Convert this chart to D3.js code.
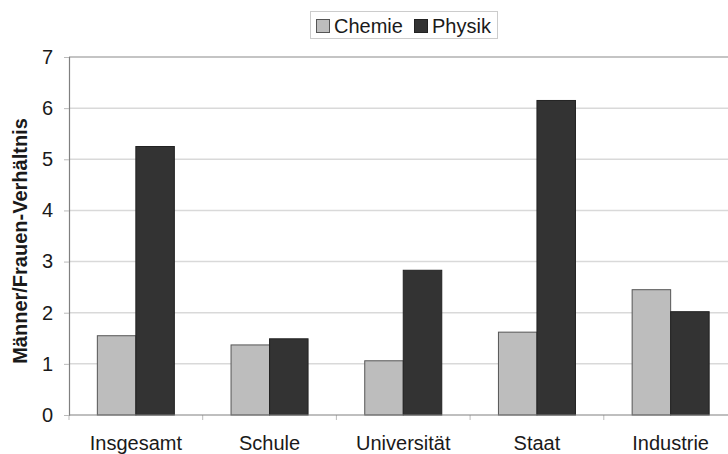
<!DOCTYPE html>
<html><head><meta charset="utf-8">
<script src="https://cdn.jsdelivr.net/npm/d3@7"></script>
<style>body{margin:0;background:#fff}svg{display:block}text{font-family:"Liberation Sans",Arial,sans-serif}</style>
</head><body><svg id="c" width="728" height="454"></svg>
<script>
const categories = ["Insgesamt","Schule","Universität","Staat","Industrie"];
const seriesNames = ["Chemie","Physik"];
const chemie = [1.55, 1.37, 1.06, 1.62, 2.45];
const physik = [5.25, 1.49, 2.83, 6.15, 2.02];
const yTicks = [0,1,2,3,4,5,6,7];
const colors = {Chemie:"#bdbdbd", Physik:"#333333"};
const strokes = {Chemie:"#555555", Physik:"#222222"};

const svg = d3.select("#c");
const L = 69, R = 737.5, T = 57, B = 415;
const x0 = d3.scaleBand().domain(categories).range([L, R]).paddingInner(0).paddingOuter(0);
const x1 = d3.scaleBand().domain(seriesNames).range([0, x0.bandwidth()]).paddingInner(0).paddingOuter(0.736);
const y = d3.scaleLinear().domain([0,7]).range([B, T]);

// gridlines
svg.append("g").selectAll("line").data(yTicks.filter(v=>v>0 && v<7)).join("line")
  .attr("x1", L).attr("x2", R).attr("y1", d=>y(d)).attr("y2", d=>y(d))
  .attr("stroke","#d9d9d9").attr("stroke-width",1.5);

// top border
svg.append("line").attr("x1",L).attr("x2",R).attr("y1",y(7)).attr("y2",y(7)).attr("stroke","#8a8a8a").attr("stroke-width",1.2);

// y axis
const yAxis = d3.axisLeft(y).tickValues(yTicks).tickSize(5).tickPadding(11).tickFormat(d3.format("d"));
const gy = svg.append("g").attr("transform",`translate(${L},0)`).call(yAxis);
gy.select(".domain").attr("stroke","#808080").attr("stroke-width",1.2);
gy.selectAll(".tick line").attr("stroke","#bbbbbb");
gy.selectAll(".tick text").attr("font-size",20).attr("fill","#1a1a1a").attr("font-family","Liberation Sans, Arial, sans-serif");

// bars
const data = categories.map((c,i)=>({cat:c, vals:[{s:"Chemie",v:chemie[i]},{s:"Physik",v:physik[i]}]}));
const g = svg.append("g").selectAll("g").data(data).join("g").attr("transform",d=>`translate(${x0(d.cat)},0)`);
g.selectAll("rect").data(d=>d.vals).join("rect")
  .attr("x",d=>x1(d.s)).attr("width",x1.bandwidth())
  .attr("y",d=>y(d.v)).attr("height",d=>y(0)-y(d.v))
  .attr("fill",d=>colors[d.s]).attr("stroke",d=>strokes[d.s]).attr("stroke-width",1);

// x axis
const xTickPos = d3.range(categories.length).map(i=>x0(categories[i]));
svg.append("g").selectAll("line").data(xTickPos).join("line")
  .attr("x1",d=>d).attr("x2",d=>d).attr("y1",B).attr("y2",B+5).attr("stroke","#bbbbbb");
svg.append("line").attr("x1",L).attr("x2",R).attr("y1",B).attr("y2",B).attr("stroke","#808080").attr("stroke-width",1.2);
svg.append("g").selectAll("text").data(categories).join("text")
  .attr("x",d=>x0(d)+x0.bandwidth()/2).attr("y",449.5)
  .attr("text-anchor","middle").attr("font-size",20).attr("fill","#1a1a1a").text(d=>d);

// y label
svg.append("text").attr("transform","translate(27,241) rotate(-90)")
  .attr("text-anchor","middle").attr("font-size",20).attr("font-weight","bold").attr("fill","#1a1a1a")
  .text("Männer/Frauen-Verhältnis");

// legend
const lg = svg.append("g");
lg.append("rect").attr("x",310.5).attr("y",11.5).attr("width",187).attr("height",27)
  .attr("fill","#fff").attr("stroke","#cccccc");
const items = [{s:"Chemie",x:316},{s:"Physik",x:414}];
items.forEach(it=>{
  lg.append("rect").attr("x",it.x+0.5).attr("y",19.5).attr("width",13).attr("height",13)
    .attr("fill",colors[it.s]).attr("stroke",strokes[it.s]);
  lg.append("text").attr("x",it.x+18).attr("y",33).attr("font-size",20).attr("fill","#1a1a1a").text(it.s);
});
</script></body></html>
